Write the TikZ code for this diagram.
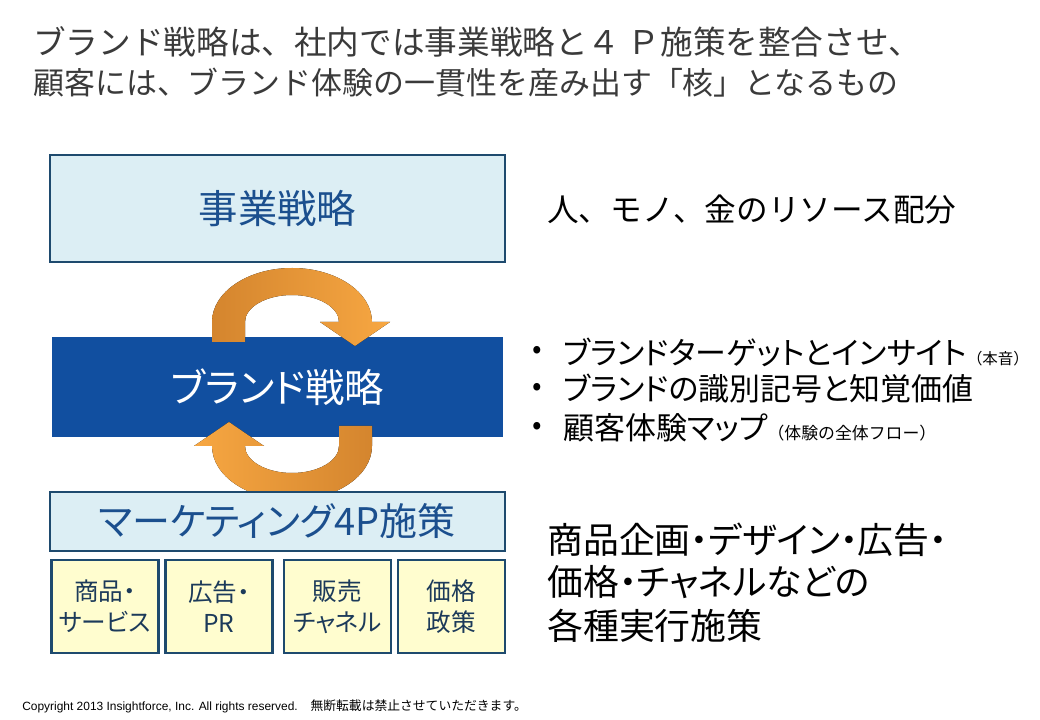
\documentclass[tikz,border=0pt]{standalone}
\usepackage{fontspec}
\setmainfont{Noto Sans CJK JP}
\newfontfamily\jpp{Noto Sans CJK JP}[RawFeature=+palt]
\newfontfamily\arialf{Liberation Sans}
\definecolor{navyline}{HTML}{1E4A6E}
\definecolor{paleblue}{HTML}{DCEEF4}
\definecolor{brandblue}{HTML}{114FA0}
\definecolor{boxtext}{HTML}{1B4F8E}
\definecolor{paleyellow}{HTML}{FFFDCF}
\definecolor{celltext}{HTML}{1C3A5A}
\definecolor{orangedark}{HTML}{D4852E}
\definecolor{orangelight}{HTML}{F7A742}
\definecolor{titlegray}{HTML}{3A3A3A}
\begin{document}
\begin{tikzpicture}[
    x=0.025cm, y=-0.025cm,
    boxline/.style={draw=navyline, line width=2.1pt, inner sep=0pt},
    pale/.style={boxline, fill=paleblue, text=boxtext},
    dark/.style={fill=brandblue, text=white, inner sep=0pt},
    cell/.style={boxline, fill=paleyellow, text=celltext, align=center,
        font=\jpp\fontsize{17.5}{22}\selectfont,
        minimum width=107*0.025cm, minimum height=93*0.025cm},
    titleline/.style={anchor=west, inner sep=0pt, text=titlegray},
    rtext/.style={anchor=west, inner sep=0pt, text=black}]

  \useasboundingbox[fill=white] (0,0) rectangle (1040,720);

  %% --- titolo ---
  \node[titleline, font=\fontsize{23.2}{27}\selectfont] (title1) at (33,42) {ブランド戦略は、社内では事業戦略と４ Ｐ施策を整合させ、};
  \node[titleline, font=\fontsize{22}{26}\selectfont] (title2) at (33,83) {顧客には、ブランド体験の一貫性を産み出す「核」となるもの};

  %% --- colonna sinistra ---
  \node[pale, minimum width=455*0.025cm, minimum height=107*0.025cm,
        font=\fontsize{28}{32}\selectfont] (jigyo) at (277.5,208.5) {事業戦略};
  \node[dark, minimum width=451*0.025cm, minimum height=100*0.025cm,
        font=\jpp\fontsize{28}{32}\selectfont] (brand) at (277.5,387) {ブランド戦略};

  %% --- frecce del ciclo ---
  \fill[left color=orangedark, right color=orangelight]
    (212,342) -- (212,322) arc[start angle=180, end angle=360, x radius=80, y radius=54]
    -- (390,322) -- (355,346) -- (320,322) -- (339,322)
    arc[start angle=360, end angle=180, x radius=47, y radius=27]
    -- (245,342) -- cycle;
  \fill[left color=orangelight, right color=orangedark]
    (372,426) -- (372,446) arc[start angle=0, end angle=180, x radius=80, y radius=54]
    -- (194,446) -- (229,422) -- (264,446) -- (245,446)
    arc[start angle=180, end angle=0, x radius=47, y radius=27]
    -- (339,426) -- cycle;

  \node[pale, minimum width=455*0.025cm, minimum height=59*0.025cm,
        font=\jpp\fontsize{27}{30}\selectfont] (mkt) at (277.5,521.5) {マーケティング4P施策};

  \foreach \xx/\nm/\txt in {105/prod/{商品・\\サービス}, 219/promo/{広告・\\PR},
                            337.5/place/{販売\\チャネル}, 451.5/price/{価格\\政策}}
    \node[cell] (\nm) at (\xx,606.5) {\txt};

  %% --- testi a destra ---
  \node[rtext, font=\fontsize{22.5}{26}\selectfont] (res) at (547,210) {人、モノ、金のリソース配分};

  \foreach \yy/\nm/\txt in {352/tgt/{ブランドターゲットとインサイト{\rmfamily\fontsize{11}{13}\selectfont（本音）}},
                            389/ident/{ブランドの識別記号と知覚価値},
                            428/cmap/{顧客体験マップ{\rmfamily\fontsize{12}{14}\selectfont（体験の全体フロー）}}}{
    \node[font=\fontsize{20}{24}\selectfont, inner sep=0pt] (b\nm) at (537,\yy) {•};
    \node[rtext, font=\jpp\fontsize{22}{26}\selectfont] (\nm) at (563,\yy) {\txt};
  }

  \node[rtext, font=\jpp\fontsize{25.5}{30}\selectfont] (exec1) at (547,540) {商品企画・デザイン・広告・};
  \node[rtext, font=\jpp\fontsize{25.5}{30}\selectfont] (exec2) at (547,582) {価格・チャネルなどの};
  \node[rtext, font=\jpp\fontsize{25.5}{30}\selectfont] (exec3) at (547,626) {各種実行施策};

  %% --- nota in calce ---
  \node[rtext, font=\fontsize{9.1}{11}\selectfont] (copy) at (22,706)
    {{\arialf\fontsize{8.5}{10}\selectfont Copyright 2013 Insightforce, Inc. All rights reserved.}\hspace{1em}無断転載は禁止させていただきます。};
\end{tikzpicture}
\end{document}
